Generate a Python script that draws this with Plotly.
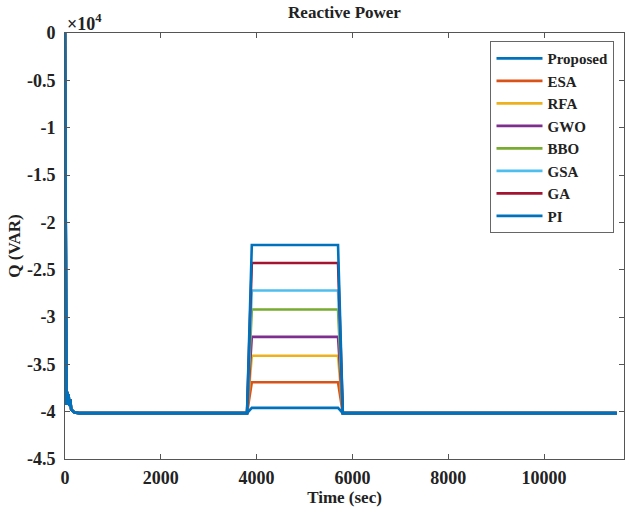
import plotly.graph_objects as go

# Reactive power Q (VAR) of each controller over the simulation time (sec)
methods = ["Proposed", "ESA", "RFA", "GWO", "BBO", "GSA", "GA", "PI"]
colors = ["#0072BD", "#D95319", "#EDB120", "#7E2F8E", "#77AC30", "#4DBEEE", "#A2142F", "#0072BD"]

# shared start-up transient and steady state before the load step
t_start = [0, 15, 30, 45, 60, 75, 90, 110, 130, 160, 200, 300, 3800]
q_start = [0, -38800, -39300, -37900, -39000, -38200, -39400, -38700, -39800, -39900, -40100, -40150, -40150]

# load step window: rise, plateau, fall
t_step = [3900, 5700]
t_end = [5800, 11520]
q_end = [-40150, -40150]

# plateau level reached by each controller during the step
q_plateau = [-22400, -36900, -34100, -32100, -29200, -27200, -24300, -39600]

ytick_vals = [0, -5000, -10000, -15000, -20000, -25000, -30000, -35000, -40000, -45000]
ytick_text = ["0", "-0.5", "-1", "-1.5", "-2", "-2.5", "-3", "-3.5", "-4", "-4.5"]
xtick_vals = [0, 2000, 4000, 6000, 8000, 10000]
xtick_text = ["0", "2000", "4000", "6000", "8000", "10000"]

FONT = "Liberation Serif"
INK = "#222222"

fig = go.Figure()
# draw the baseline controllers first so the proposed curve sits on top
order = list(range(1, len(methods))) + [0]
for i in order:
    t = t_start + t_step + t_end
    q = q_start + [q_plateau[i], q_plateau[i]] + q_end
    fig.add_trace(go.Scatter(
        x=t, y=q, mode="lines", name=methods[i],
        line=dict(color=colors[i], width=2.6),
        legendrank=i + 1,
    ))

axis_common = dict(
    showline=True, linecolor="#555555", linewidth=1, mirror="ticks",
    ticks="inside", ticklen=5, tickcolor="#555555", showgrid=False, zeroline=False,
    tickfont=dict(family=FONT, size=18, color=INK, weight="bold"),
)

fig.update_layout(
    width=625, height=515,
    margin=dict(l=65, r=1, t=33, b=56),
    paper_bgcolor="white", plot_bgcolor="white",
    title=dict(text="Reactive Power", x=0.5, xref="paper", xanchor="center",
               y=1 - 12 / 515, yref="container", yanchor="middle",
               font=dict(family=FONT, size=17, color=INK, weight="bold")),
    xaxis=dict(range=[0, 11670], tickvals=xtick_vals, ticktext=xtick_text,
               ticklabelstandoff=2,
               title=dict(text="Time (sec)", standoff=4,
                          font=dict(family=FONT, size=17, color=INK, weight="bold")),
               **axis_common),
    yaxis=dict(range=[-45000, 0], tickvals=ytick_vals, ticktext=ytick_text,
               ticklabelstandoff=5,
               title=dict(text="Q (VAR)", standoff=1,
                          font=dict(family=FONT, size=17, color=INK, weight="bold")),
               **axis_common),
    legend=dict(x=0.983, xanchor="right", y=0.981, yanchor="top",
                bordercolor="#666666", borderwidth=1, bgcolor="white",
                itemwidth=46, traceorder="normal",
                font=dict(family=FONT, size=15, color=INK, weight="bold")),
    showlegend=True,
)

fig.add_annotation(
    text="×10<sup>4</sup>", xref="paper", yref="paper", x=0, y=1,
    xanchor="left", yanchor="bottom", showarrow=False, yshift=-3,
    font=dict(family=FONT, size=18, color=INK, weight="bold"),
)

fig.write_html("out.html")
